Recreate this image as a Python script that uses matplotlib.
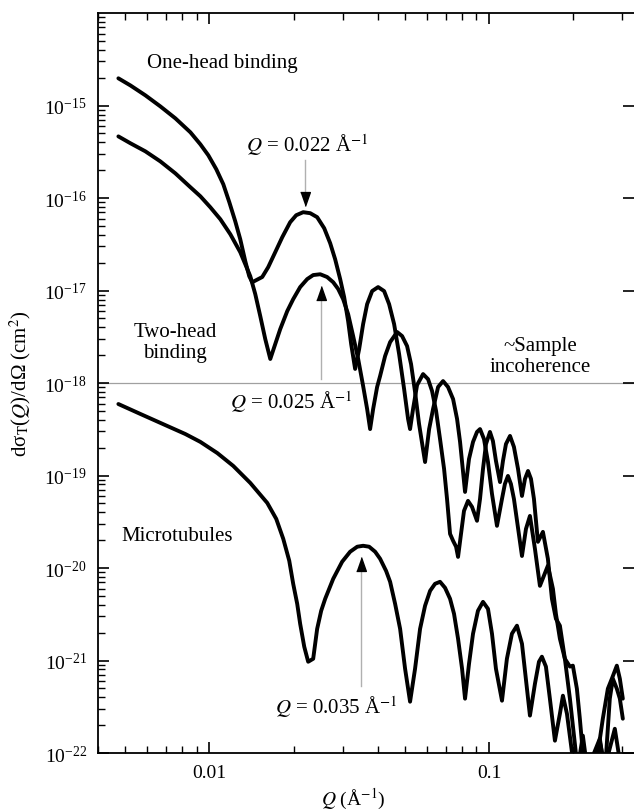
import matplotlib
matplotlib.use("Agg")
import matplotlib.pyplot as plt
from matplotlib.ticker import FixedLocator, LogLocator, NullFormatter

plt.rcParams['font.family'] = ['Liberation Serif', 'DejaVu Serif']
plt.rcParams['mathtext.fontset'] = 'stix'

# one-head binding (top curve)
q_one = [0.00473, 0.005223, 0.005906, 0.006683, 0.00756, 0.008556, 0.00929, 0.009918, 0.01059, 0.01122,
         0.01179, 0.01238, 0.0129, 0.01345, 0.01389, 0.01424, 0.01546, 0.01624, 0.01721, 0.01823,
         0.01946, 0.02045, 0.02166, 0.02295, 0.0243, 0.02575, 0.02705, 0.02818, 0.02937, 0.03035,
         0.03136, 0.03215, 0.03322, 0.03434, 0.03548, 0.03667, 0.03821, 0.04014, 0.04217, 0.04394,
         0.04579, 0.04771, 0.04972, 0.05137, 0.05222, 0.05352, 0.05532, 0.05812, 0.06057, 0.06258,
         0.06469, 0.06683, 0.06909, 0.07079, 0.07258, 0.07441, 0.07626, 0.07752, 0.07943, 0.08141,
         0.08414, 0.08697, 0.09061, 0.09289, 0.09519, 0.09757, 0.1008, 0.1033, 0.1059, 0.1095,
         0.1122, 0.115, 0.1189, 0.1228, 0.127, 0.1312, 0.1345, 0.1379, 0.1413, 0.1448,
         0.1496, 0.1559, 0.1624, 0.1679, 0.1735, 0.1793, 0.1868, 0.1947, 0.2045, 0.2166,
         0.2491, 0.2596, 0.2704, 0.2773, 0.2865, 0.2937, 0.301]
i_one = [1.97e-15, 1.65e-15, 1.29e-15, 9.79e-16, 7.28e-16, 5.14e-16, 3.81e-16, 2.90e-16, 2.05e-16, 1.41e-16,
         9.02e-17, 5.61e-17, 3.59e-17, 2.07e-17, 1.43e-17, 1.23e-17, 1.40e-17, 1.79e-17, 2.60e-17, 3.77e-17,
         5.48e-17, 6.52e-17, 7.03e-17, 6.86e-17, 6.21e-17, 4.72e-17, 3.25e-17, 2.18e-17, 1.33e-17, 8.49e-18,
         4.67e-18, 2.64e-18, 1.42e-18, 2.33e-18, 4.34e-18, 7.13e-18, 9.87e-18, 1.09e-17, 9.87e-18, 7.13e-18,
         4.34e-18, 2.06e-18, 8.61e-19, 4.09e-19, 3.18e-19, 5.24e-19, 9.5e-19, 1.25e-18, 1.10e-18, 8.2e-19,
         4.99e-19, 2.48e-19, 1.18e-19, 5.59e-20, 2.34e-20, 1.97e-20, 1.70e-20, 1.32e-20, 2.34e-20, 4.15e-20,
         5.32e-20, 4.58e-20, 3.24e-20, 5.59e-20, 1.18e-19, 2.19e-19, 2.96e-19, 2.36e-19, 1.44e-19, 8.5e-20,
         1.44e-19, 2.19e-19, 2.68e-19, 2.04e-19, 1.18e-19, 6.02e-20, 9.2e-20, 1.12e-19, 9.2e-20, 5.59e-20,
         1.92e-20, 2.46e-20, 1.26e-20, 4.65e-21, 2.83e-21, 2.38e-21, 1.045e-21, 3.87e-22, 1.0e-22, 5e-23,
         1.43e-22, 6e-23, 3.87e-22, 6.36e-22, 4.96e-22, 3.87e-22, 2.35e-22]

# two-head binding
q_two = [0.00473, 0.005223, 0.005906, 0.006683, 0.00756, 0.008556, 0.00929, 0.01008, 0.01095, 0.01189,
         0.0129, 0.01401, 0.0146, 0.01521, 0.01585, 0.01652, 0.01721, 0.01793, 0.019, 0.01995,
         0.02113, 0.02239, 0.02352, 0.02492, 0.02638, 0.02773, 0.02889, 0.0301, 0.03136, 0.03268,
         0.03406, 0.03548, 0.03667, 0.03758, 0.03853, 0.03981, 0.0408, 0.04252, 0.04431, 0.04694,
         0.0489, 0.05095, 0.05265, 0.05441, 0.05623, 0.05908, 0.06109, 0.0631, 0.06577, 0.06852,
         0.07137, 0.07441, 0.07689, 0.07881, 0.08211, 0.08483, 0.08769, 0.09061, 0.09289, 0.09597,
         0.09918, 0.1025, 0.1068, 0.1113, 0.114, 0.1169, 0.1198, 0.1228, 0.1312, 0.1356,
         0.1401, 0.146, 0.1521, 0.1624, 0.1693, 0.1735, 0.1793, 0.1868, 0.1947, 0.1995,
         0.2062, 0.2113, 0.2166, 0.2295, 0.245, 0.2553, 0.2661, 0.275, 0.2865, 0.2937, 0.301]
i_two = [4.64e-16, 3.91e-16, 3.20e-16, 2.49e-16, 1.85e-16, 1.31e-16, 1.045e-16, 7.96e-17, 5.90e-17, 4.06e-17,
         2.60e-17, 1.43e-17, 9.14e-18, 5.30e-18, 2.99e-18, 1.82e-18, 2.64e-18, 3.83e-18, 6.0e-18, 8.07e-18,
         1.09e-17, 1.33e-17, 1.47e-17, 1.50e-17, 1.40e-17, 1.23e-17, 1.04e-17, 8.07e-18, 5.56e-18, 3.22e-18,
         1.82e-18, 9.29e-19, 5.24e-19, 3.18e-19, 5.24e-19, 9.06e-19, 1.19e-18, 1.96e-18, 2.77e-18, 3.56e-18,
         3.22e-18, 2.51e-18, 1.60e-18, 8.0e-19, 3.61e-19, 1.40e-19, 3.18e-19, 5.24e-19, 9.06e-19, 1.05e-18,
         9.06e-19, 6.71e-19, 4.09e-19, 2.31e-19, 6.65e-20, 1.51e-19, 2.31e-19, 2.96e-19, 3.18e-19, 2.48e-19,
         1.40e-19, 6.33e-20, 2.86e-20, 5.59e-20, 8.11e-20, 9.9e-20, 8.11e-20, 5.59e-20, 1.35e-20, 2.65e-20,
         3.66e-20, 1.61e-20, 6.42e-21, 1.06e-20, 5.96e-21, 3.2e-21, 1.72e-21, 1.045e-21, 8.6e-22, 8.8e-22,
         4.96e-22, 2.35e-22, 1.0e-22, 5e-23, 1.0e-22, 2.35e-22, 4.96e-22, 6.36e-22, 8.8e-22, 6.36e-22, 3.87e-22]

# microtubules
q_mt = [0.00473, 0.00567, 0.00708, 0.00821, 0.00929, 0.01068, 0.01218, 0.01401, 0.01611, 0.01735,
        0.01838, 0.01931, 0.01995, 0.02062, 0.02113, 0.02185, 0.02257, 0.02352, 0.0243, 0.02512,
        0.02596, 0.02773, 0.02985, 0.03188, 0.0338, 0.03548, 0.03728, 0.03917, 0.0408, 0.04287,
        0.04431, 0.04617, 0.04811, 0.05012, 0.05222, 0.05441, 0.0567, 0.05908, 0.06158, 0.06412,
        0.06683, 0.06966, 0.07258, 0.07499, 0.07752, 0.08012, 0.08211, 0.08483, 0.08769, 0.09132,
        0.09519, 0.09918, 0.1025, 0.1059, 0.1113, 0.1159, 0.1208, 0.1259, 0.1312, 0.1367,
        0.1401, 0.146, 0.1509, 0.1546, 0.1598, 0.1651, 0.1721, 0.1793, 0.1838, 0.19,
        0.1979, 0.2062, 0.2166, 0.2257, 0.2491, 0.2596, 0.2818, 0.2961]
i_mt = [5.93e-19, 4.63e-19, 3.43e-19, 2.81e-19, 2.31e-19, 1.75e-19, 1.27e-19, 8.32e-20, 5.06e-20, 3.40e-20,
        2.07e-20, 1.20e-20, 6.75e-21, 4.10e-21, 2.49e-21, 1.41e-21, 9.7e-22, 1.045e-21, 2.20e-21, 3.45e-21,
        4.65e-21, 7.64e-21, 1.17e-20, 1.50e-20, 1.70e-20, 1.74e-20, 1.70e-20, 1.50e-20, 1.26e-20, 9.3e-21,
        7.10e-21, 4.10e-21, 2.20e-21, 8.15e-22, 3.59e-22, 8.15e-22, 2.20e-21, 3.91e-21, 5.67e-21, 6.75e-21,
        7.10e-21, 6.11e-21, 4.65e-21, 3.2e-21, 1.72e-21, 8.15e-22, 3.87e-22, 9.2e-22, 1.95e-21, 3.45e-21,
        4.31e-21, 3.62e-21, 1.95e-21, 8.15e-22, 3.68e-22, 1.045e-21, 1.95e-21, 2.38e-21, 1.52e-21, 4.96e-22,
        2.54e-22, 5.61e-22, 9.7e-22, 1.10e-21, 8.6e-22, 3.87e-22, 1.36e-22, 2.66e-22, 4.17e-22, 2.66e-22,
        1.035e-22, 6e-23, 1.54e-22, 6e-23, 1.33e-22, 7e-23, 1.83e-22, 7e-23]

y_major = [1e-22, 1e-21, 1e-20, 1e-19, 1e-18, 1e-17, 1e-16, 1e-15]
incoherence = 1e-18
peak_q = [0.022, 0.025, 0.035]


def arrow(ax, q, line_from, line_to, head_mid, down):
    ax.plot([q, q], [line_from, line_to], color='#b0b0b0', lw=1.0, zorder=2)
    if down:
        verts = [(-0.35, 0.5), (0.35, 0.5), (0, -0.5)]
    else:
        verts = [(-0.35, -0.5), (0.35, -0.5), (0, 0.5)]
    ax.plot([q], [head_mid], marker=verts, markersize=10, color='black', zorder=4)


def main():
    fig = plt.figure(figsize=(6.34, 8.12), dpi=100)
    ax = fig.add_axes([0.1546, 0.0714, 0.8454, 0.9113])

    ax.axhline(incoherence, color='#a0a0a0', lw=0.9, zorder=1)

    for q, i in [(q_one, i_one), (q_two, i_two), (q_mt, i_mt)]:
        ax.plot(q, i, color='black', lw=2.8, solid_joinstyle='round', solid_capstyle='round', zorder=3)

    ax.set_xscale('log')
    ax.set_yscale('log')
    ax.set_xlim(0.004, 0.33)
    ax.set_ylim(1e-22, 1e-14)

    ax.set_xticks([0.01, 0.1])
    ax.set_xticklabels(['0.01', '0.1'])
    ax.xaxis.set_minor_locator(LogLocator(base=10, subs=range(2, 10)))
    ax.xaxis.set_minor_formatter(NullFormatter())
    ax.yaxis.set_major_locator(FixedLocator(y_major))
    ax.yaxis.set_minor_locator(LogLocator(base=10, subs=range(2, 10), numticks=20))
    ax.yaxis.set_minor_formatter(NullFormatter())

    ax.tick_params(which='major', direction='in', length=8, width=1.2, labelsize=14,
                   top=True, right=True, pad=8)
    ax.tick_params(which='minor', direction='in', length=5, width=1.0, top=True, right=False)
    ax.spines['right'].set_visible(False)
    for s in ['left', 'bottom', 'top']:
        ax.spines[s].set_linewidth(1.3)

    ax.set_xlabel(r'$Q$ (Å$^{-1}$)', fontsize=14, labelpad=1)
    ax.xaxis.set_label_coords(0.476, -0.045)
    ax.set_ylabel(r'dσ$_{\mathrm{T}}$($Q$)/dΩ (cm$^{2}$)', fontsize=15, labelpad=8)

    ax.text(0.0111, 2.93e-15, 'One-head binding', fontsize=15, ha='center', va='center')
    ax.text(0.0224, 3.8e-16, r'$Q$ = 0.022 Å$^{-1}$', fontsize=15, ha='center', va='center')
    ax.text(0.00756, 2.77e-18, 'Two-head\nbinding', fontsize=15, ha='center', va='center',
            linespacing=1.1)
    ax.text(0.01963, 6.4e-19, r'$Q$ = 0.025 Å$^{-1}$', fontsize=15, ha='center', va='center')
    ax.text(0.1522, 1.96e-18, '~Sample\nincoherence', fontsize=15, ha='center', va='center',
            linespacing=1.1)
    ax.text(0.00769, 2.23e-20, 'Microtubules', fontsize=15, ha='center', va='center')
    ax.text(0.0284, 3.25e-22, r'$Q$ = 0.035 Å$^{-1}$', fontsize=15, ha='center', va='center')

    arrow(ax, peak_q[0], 2.6e-16, 1.16e-16, 9.7e-17, down=True)
    arrow(ax, peak_q[1], 1.1e-18, 8.0e-18, 9.4e-18, down=False)
    arrow(ax, peak_q[2], 5.3e-22, 9.1e-21, 1.1e-20, down=False)

    fig.savefig('out.png', dpi=100)


if __name__ == "__main__":
    main()
